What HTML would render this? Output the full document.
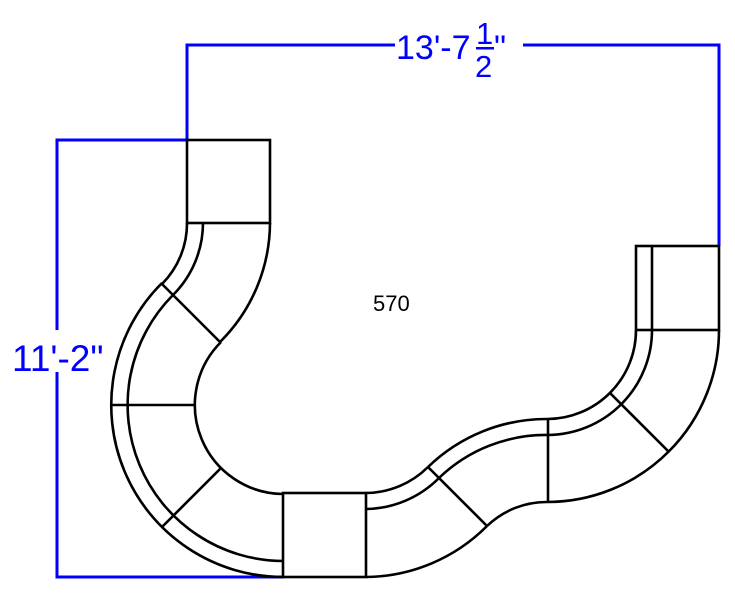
<!DOCTYPE html>
<html><head><meta charset="utf-8"><style>
html,body{margin:0;padding:0;background:#fff;}
svg{display:block;}
</style></head><body>
<svg width="735" height="594" viewBox="0 0 735 594" xmlns="http://www.w3.org/2000/svg">
<g fill="none" stroke="#0000ff" stroke-width="3">
<path d="M187 140 V45 H395 M523 45 H719 V246"/>
<path d="M187 140 H57 V330 M57 372 V577 H283"/>
</g>
<g font-family="Liberation Sans, sans-serif" fill="#0000ff">
<text x="396" y="59" font-size="34">13'-7</text>
<text x="476" y="44" font-size="31">1</text>
<rect x="476" y="47" width="18" height="2.5"/>
<text x="475" y="77" font-size="31">2</text>
<text x="494" y="59" font-size="34">"</text>
<text x="12" y="371" font-size="37">11'-2"</text>
</g>
<text x="373" y="311" font-family="Liberation Sans, sans-serif" font-size="22" fill="#000">570</text>
<g fill="none" stroke="#000" stroke-width="2.6">
<rect x="187" y="140" width="83" height="83"/>
<rect x="283" y="493" width="83" height="84"/>
<rect x="636" y="246" width="83" height="84"/>
<path d="M652 246 V330"/>
<path d="M187 223 A86 86 0 0 1 162 284"/>
<path d="M203 223 A102 102 0 0 1 173 295"/>
<path d="M270 223 A169 169 0 0 1 220 342"/>
<path d="M162 284 L220 342"/>
<path d="M162 283 A172 172 0 0 0 284 577"/>
<path d="M173 295 A156 156 0 0 0 283 561"/>
<path d="M221 342 A89 89 0 0 0 283 494"/>
<path d="M112 405 H195"/>
<path d="M162 527 L221 468"/>
<path d="M366 493 A89 89 0 0 0 428 467"/>
<path d="M366 509 A105 105 0 0 0 439 478"/>
<path d="M366 577 A173 173 0 0 0 487 526"/>
<path d="M428 467 L487 526"/>
<path d="M428 467 A170 170 0 0 1 548 419"/>
<path d="M439 478 A154 154 0 0 1 548 435"/>
<path d="M487 526 A86 86 0 0 1 548 502"/>
<path d="M548 419 V502"/>
<path d="M548 419 A89 89 0 0 0 636 330"/>
<path d="M548 435 A105 105 0 0 0 652 330"/>
<path d="M548 502 A172 172 0 0 0 719 330"/>
<path d="M610 393 L669 452"/>
</g>
</svg>
</body></html>
